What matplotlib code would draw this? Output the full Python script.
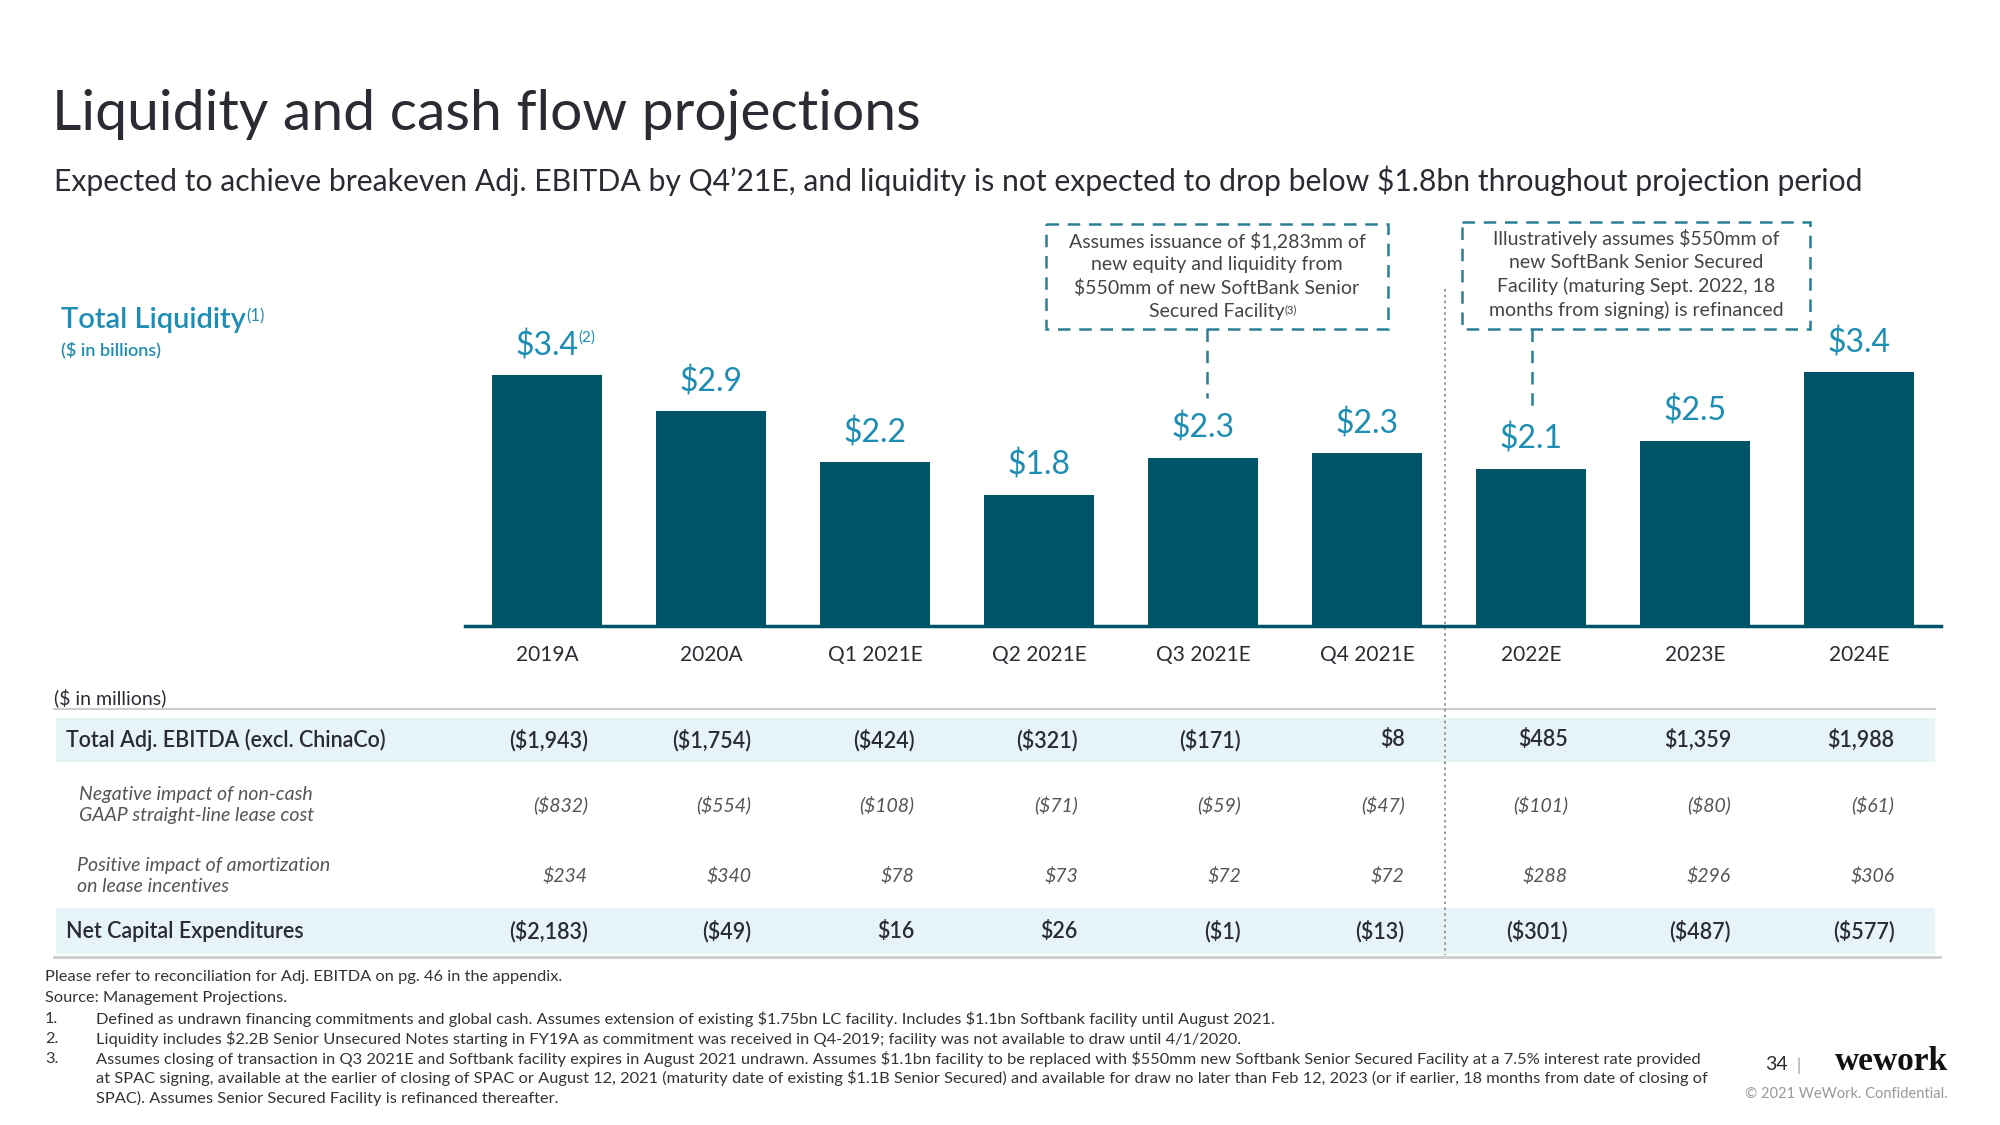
import matplotlib.pyplot as plt
from matplotlib.patches import Rectangle

plt.rcParams['font.family'] = ['Lato', 'DejaVu Sans']
plt.rcParams['text.parse_math'] = False

# data
periods = ["2019A", "2020A", "Q1 2021E", "Q2 2021E", "Q3 2021E", "Q4 2021E", "2022E", "2023E", "2024E"]
liquidity = [3.40, 2.91, 2.22, 1.78, 2.28, 2.34, 2.13, 2.51, 3.44]
ebitda = [-1943, -1754, -424, -321, -171, 8, 485, 1359, 1988]
lease_cost = [-832, -554, -108, -71, -59, -47, -101, -80, -61]
lease_incent = [234, 340, 78, 73, 72, 72, 288, 296, 306]
capex = [-2183, -49, 16, 26, -1, -13, -301, -487, -577]
row_labels = ["Total Adj. EBITDA (excl. ChinaCo)",
              "Negative impact of non-cash\nGAAP straight-line lease cost",
              "Positive impact of amortization\non lease incentives",
              "Net Capital Expenditures"]

BAR = "#005468"
TEAL = "#1E8DB3"
DARK = "#2B2B33"
BAND = "#E6F4F7"
GREY = "#555555"

W, H = 2000, 1125
fig = plt.figure(figsize=(20, 11.25), dpi=100)

# layout layer in pixel coords
lay = fig.add_axes([0, 0, 1, 1])
lay.set_xlim(0, W)
lay.set_ylim(H, 0)
lay.axis("off")

def fmt(v):
    return f"(${abs(v):,})" if v < 0 else f"${v:,}"

# title
lay.text(52, 114, "Liquidity and cash flow projections", fontsize=41, color=DARK, va="center")
lay.text(54, 181, "Expected to achieve breakeven Adj. EBITDA by Q4\u201921E, and liquidity is not expected to drop below $1.8bn throughout projection period",
         fontsize=21.7, color=DARK, va="center")

t = lay.text(61, 320, "Total Liquidity", fontsize=21, color=TEAL, va="center", fontweight="semibold")
lay.annotate("(1)", xy=(1, 0.95), xycoords=t, fontsize=12, color=TEAL, va="top", ha="left")
lay.text(61, 350, "($ in billions)", fontsize=13, color=TEAL, va="center", fontweight="semibold")

# bar chart
ax = fig.add_axes([465 / W, 1 - 626 / H, 1476 / W, 4 * 73.8 / H])
ax.patch.set_alpha(0)
x = list(range(len(periods)))
ax.bar(x, liquidity, width=0.67, color=BAR, zorder=2)
ax.set_xlim(-0.5, 8.5)
ax.set_ylim(0, 4)
for s in ["top", "right", "left"]:
    ax.spines[s].set_visible(False)
ax.spines["bottom"].set_color(BAR)
ax.spines["bottom"].set_linewidth(2.5)
ax.set_yticks([])
ax.set_xticks(x)
ax.set_xticklabels(periods, fontsize=15, color=DARK)
ax.tick_params(axis="x", length=0, pad=14)
for i, v in enumerate(liquidity):
    lbl = ax.annotate(f"${v:.1f}", xy=(i, v), xytext=(0, 10), textcoords="offset points",
                      ha="center", va="bottom", fontsize=23, color=TEAL)
    if i == 0:
        ax.annotate("(2)", xy=(1, 1.0), xycoords=lbl, fontsize=11, color=TEAL, va="top", ha="left")

# separator between quarters and years
lay.plot([1445, 1445], [289, 955], color="#888888", lw=1.2, ls=(0, (1.5, 2)), zorder=3)

# annotation boxes
boxes = [
    (1046, 224, 342, 105, 1207, 398,
     ["Assumes issuance of $1,283mm of", "new equity and liquidity from",
      "$550mm of new SoftBank Senior", "Secured Facility"]),
    (1462, 222, 348, 107, 1532, 412,
     ["Illustratively assumes $550mm of", "new SoftBank Senior Secured",
      "Facility (maturing Sept. 2022, 18", "months from signing) is refinanced"]),
]
for bx, by, bw, bh, cx, cy, lines in boxes:
    lay.add_patch(Rectangle((bx, by), bw, bh, fill=False, edgecolor="#2A7F95",
                            lw=1.8, ls=(0, (5, 3.5))))
    lay.plot([cx, cx], [by + bh, cy], color="#2A7F95", lw=1.8, ls=(0, (5, 3.5)))
    mid = bx + bw / 2
    for k, ln in enumerate(lines):
        tt = lay.text(mid, by + 17 + k * 23.5, ln, fontsize=14, color="#444444", ha="center", va="center")
    if lines[-1] == "Secured Facility":
        lay.annotate("(3)", xy=(1, 0.95), xycoords=tt, fontsize=8, color="#444444", va="top", ha="left")

# table
lay.text(54, 698, "($ in millions)", fontsize=14, color=DARK, va="center")
lay.plot([54, 1935], [709, 709], color="#CCCCCC", lw=1.5)
lay.add_patch(Rectangle((56, 718), 1879, 44, color=BAND, lw=0))
lay.add_patch(Rectangle((56, 908), 1879, 46, color=BAND, lw=0))
lay.plot([54, 1940], [957, 957], color="#CCCCCC", lw=2)

rows = [(740, ebitda, True), (805, lease_cost, False), (876, lease_incent, False), (931, capex, True)]
label_x = [66, 79, 77, 66]
for (ry, vals, bold), lx, rl in zip(rows, label_x, row_labels):
    if bold:
        lay.text(lx, ry, rl, fontsize=15.5, color=DARK, va="center", fontweight="semibold")
    else:
        lay.text(lx, ry, rl, fontsize=14, color=GREY, va="center", style="italic", linespacing=1.3)
    for i, v in enumerate(vals):
        px = 588 + 163.3 * i
        if bold:
            lay.text(px, ry, fmt(v), fontsize=15.5, color=DARK, ha="right", va="center", fontweight="semibold")
        else:
            lay.text(px, ry, fmt(v), fontsize=14, color=GREY, ha="right", va="center", style="italic")

# footnotes
fs = 11.8
fc = "#333333"
lay.text(45, 977, "Please refer to reconciliation for Adj. EBITDA on pg. 46 in the appendix.", fontsize=fs, color=fc, va="center")
lay.text(45, 998, "Source: Management Projections.", fontsize=fs, color=fc, va="center")
notes = [
    ("1.", "Defined as undrawn financing commitments and global cash. Assumes extension of existing $1.75bn LC facility. Includes $1.1bn Softbank facility until August 2021."),
    ("2.", "Liquidity includes $2.2B Senior Unsecured Notes starting in FY19A as commitment was received in Q4-2019; facility was not available to draw until 4/1/2020."),
    ("3.", "Assumes closing of transaction in Q3 2021E and Softbank facility expires in August 2021 undrawn. Assumes $1.1bn facility to be replaced with $550mm new Softbank Senior Secured Facility at a 7.5% interest rate provided"),
    ("", "at SPAC signing, available at the earlier of closing of SPAC or August 12, 2021 (maturity date of existing $1.1B Senior Secured) and available for draw no later than Feb 12, 2023 (or if earlier, 18 months from date of closing of"),
    ("", "SPAC). Assumes Senior Secured Facility is refinanced thereafter."),
]
for k, (n, txt) in enumerate(notes):
    yy = 1019 + k * 19.8
    lay.text(45, yy, n, fontsize=fs, color=fc, va="center")
    lay.text(96, yy, txt, fontsize=fs, color=fc, va="center")

# page footer
lay.text(1776, 1064, "34", fontsize=14, color=DARK, ha="center", va="center")
lay.text(1799, 1066, "|", fontsize=12, color="#999999", ha="center", va="center")
lay.text(1948, 1061, "wework", fontsize=24, color="#111111", ha="right", va="center",
         family="Liberation Serif", fontweight="bold")
lay.text(1948, 1094, "\u00a9 2021 WeWork. Confidential.", fontsize=10.5, color="#999999", ha="right", va="center")

fig.savefig("out.png", dpi=100)
